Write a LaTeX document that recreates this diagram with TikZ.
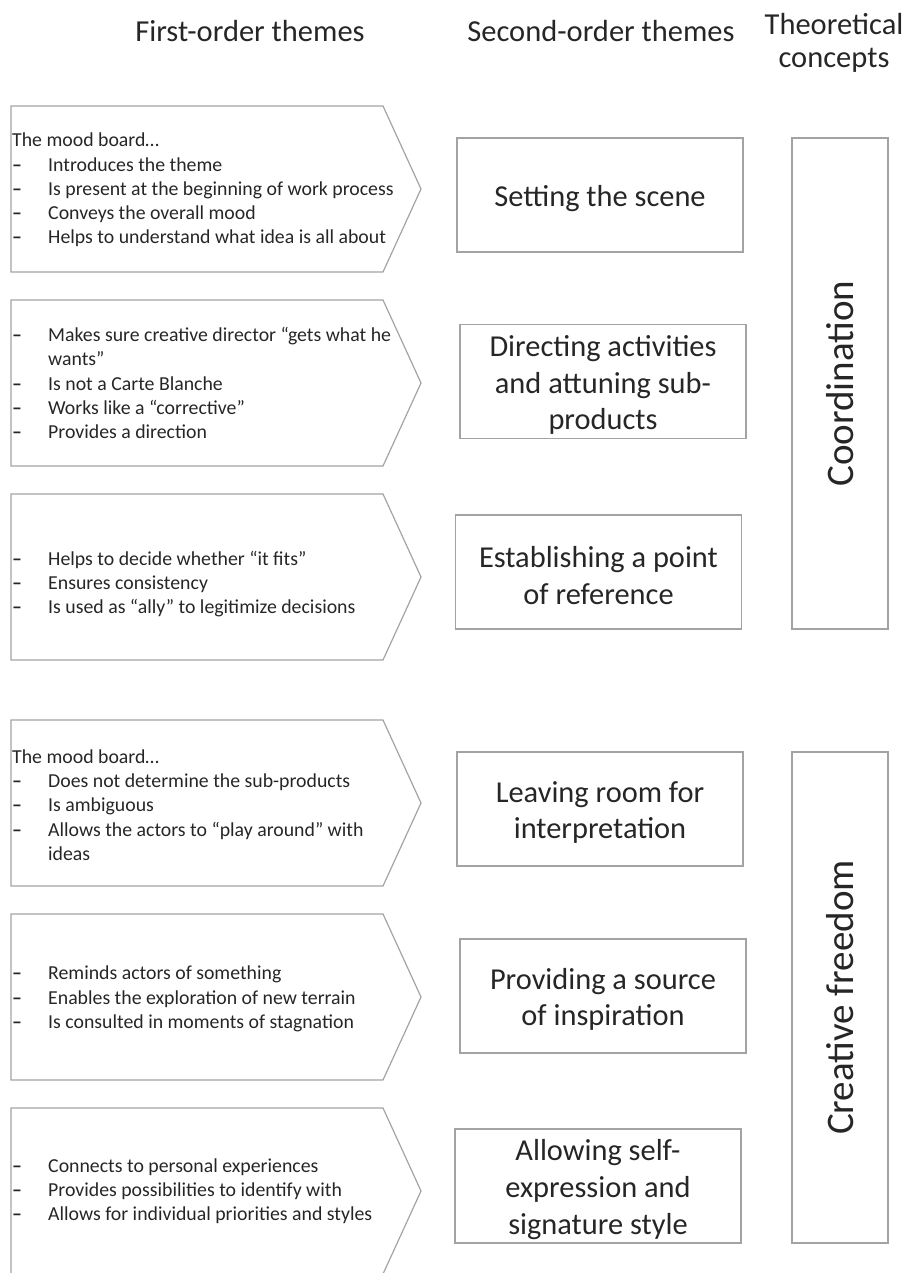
\documentclass[tikz,border=0pt]{standalone}
\usepackage{fontspec}
\setmainfont{Carlito}
\usepackage{xcolor}
\definecolor{txt}{HTML}{262626}
\definecolor{rim}{HTML}{A3A3A3}
\newcommand{\dash}{\makebox[36pt][l]{\textbf{–}}}
\newcommand{\cont}{\hspace*{36pt}}

\begin{document}
\begin{tikzpicture}[x=1pt,y=-1pt,
	head/.style={text=txt,align=center,inner sep=0pt,font=\fontsize{30.5}{33}\selectfont},
	bul/.style={text=txt,align=left,anchor=west,inner sep=1pt,font=\fontsize{19.8}{24.2}\selectfont},
	sbox/.style={draw=rim,line width=1.4pt,inner sep=0pt,minimum width=286,minimum height=114},
	stext/.style={text=txt,align=center,inner sep=0pt,yshift=-3.5pt,font=\fontsize{30.4}{36.6}\selectfont},
	cbox/.style={draw=rim,line width=1.4pt,inner sep=0pt,minimum width=96,minimum height=491},
	concept/.style={text=txt,rotate=90,inner sep=0pt,font=\fontsize{39}{47}\selectfont},
	chev/.style={draw=rim,line width=1.2pt,line join=miter}]
	\useasboundingbox (0,0) rectangle (905,1273);
	\clip (0,0) rectangle (905,1273);
	%column headings
	\node[head] (h1) at (250,31) {First-order themes};
	\node[head] (h2) at (601,31) {Second-order themes};
	\node[head] (h3) at (834,43) {Theoretical\\concepts};
	%chevrons
	\foreach \t in {106,300,494,720,914,1108}
		\draw[chev] (11,\t) -- ++(372,0) -- ++(38,83) -- ++(-38,83) -- ++(-372,0) -- cycle;
	%first-order themes
	\node[bul] (f1) at (11,190) {The mood board…\\\dash Introduces the theme\\\dash Is present at the beginning of work process\\\dash Conveys the overall mood\\\dash Helps to understand what idea is all about};
	\node[bul] (f2) at (11,383) {\dash Makes sure creative director “gets what he\\\cont wants”\\\dash Is not a Carte Blanche\\\dash Works like a “corrective”\\\dash Provides a direction};
	\node[bul] (f3) at (11,584) {\dash Helps to decide whether “it fits”\\\dash Ensures consistency\\\dash Is used as “ally” to legitimize decisions};
	\node[bul] (f4) at (11,805) {The mood board…\\\dash Does not determine the sub-products\\\dash Is ambiguous\\\dash Allows the actors to “play around” with\\\cont ideas};
	\node[bul] (f5) at (11,999) {\dash Reminds actors of something\\\dash Enables the exploration of new terrain\\\dash Is consulted in moments of stagnation};
	\node[bul] (f6) at (11,1191) {\dash Connects to personal experiences\\\dash Provides possibilities to identify with\\\dash Allows for individual priorities and styles};
	%second-order themes
	\node[sbox] (s1) at (600,195) {};
	\node[stext] (t1) at (s1) {Setting the scene};
	\node[sbox] (s2) at (603,381.5) {};
	\node[stext] (t2) at (s2) {Directing activities\\and attuning sub-\\products};
	\node[sbox] (s3) at (598.5,572) {};
	\node[stext] (t3) at (s3) {Establishing a point\\of reference};
	\node[sbox] (s4) at (600,809) {};
	\node[stext] (t4) at (s4) {Leaving room for\\interpretation};
	\node[sbox] (s5) at (603,996) {};
	\node[stext] (t5) at (s5) {Providing a source\\of inspiration};
	\node[sbox] (s6) at (598,1186) {};
	\node[stext] (t6) at (s6) {Allowing self-\\expression and\\signature style};
	%theoretical concepts
	\node[cbox] (c1) at (840,383.5) {};
	\node[concept] (k1) at (c1) {Coordination};
	\node[cbox] (c2) at (840,997.5) {};
	\node[concept] (k2) at (c2) {Creative freedom};
\end{tikzpicture}
\end{document}
